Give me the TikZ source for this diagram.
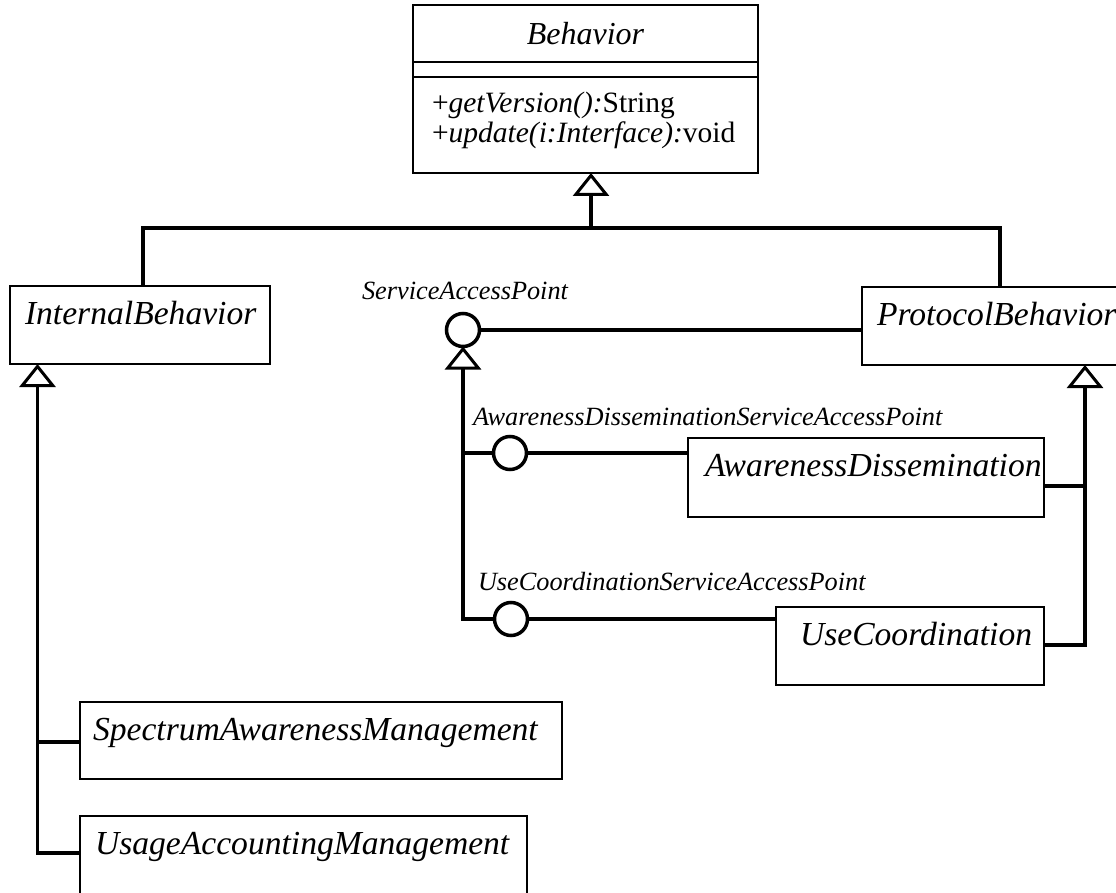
\documentclass[tikz,border=0pt]{standalone}
\usepackage{fontspec}
\setmainfont{Liberation Serif}
\usetikzlibrary{arrows.meta}
\newcommand\clsfont{\fontsize{33.6}{40}\selectfont\itshape}
\newcommand\titlefont{\fontsize{32}{38}\selectfont\itshape}
\newcommand\methfont{\fontsize{29.5}{34}\selectfont}
\newcommand\lblfont{\fontsize{26.3}{30}\selectfont\itshape}
\begin{document}
\begin{tikzpicture}[x=1pt,y=-1pt,
  every node/.style={inner sep=0pt, outer sep=0pt},
  cls/.style={draw, line width=1.8pt, anchor=north west, inner ysep=0pt,
              align=left, text height=38pt, font=\clsfont},
  conn/.style={line width=3.9pt},
  gen/.style={conn, -{Triangle[open, length=23pt, width=36pt, line width=3pt]}},
  iface/.style={circle, draw, line width=3.5pt, minimum size=33pt, fill=white},
  lbl/.style={font=\lblfont}]
\useasboundingbox (0,0) rectangle (1116,893);

% Behavior class
\node[draw, line width=1.8pt, anchor=north west, minimum width=345pt,
      minimum height=168pt] (behavior) at (413,5) {};
\node[font=\titlefont, anchor=base] (bname) at (585.5,45) {Behavior};
\coordinate (c1) at (0,62);
\coordinate (c2) at (0,77);
\draw[line width=1.8pt] (behavior.west |- c1) -- (behavior.east |- c1);
\draw[line width=1.8pt] (behavior.west |- c2) -- (behavior.east |- c2);
\node[font=\methfont, anchor=base west] (op1) at (432,113) {+\textit{getVersion():}String};
\node[font=\methfont, anchor=base west] (op2) at (432,143) {+\textit{update(i:Interface):}void};

% classes
\node[cls, text width=230pt, inner xsep=15pt, text depth=40pt] (internal) at (10,286) {InternalBehavior};
\node[cls, text width=246pt, inner xsep=15pt, text depth=40pt] (protocol) at (862,287) {ProtocolBehavior};
\node[cls, text width=322pt, inner xsep=17pt, text depth=41pt] (aw) at (688,438) {AwarenessDissemination};
\node[cls, text width=220pt, inner xsep=24pt, text depth=40pt] (uc) at (776,607) {UseCoordination};
\node[cls, text width=456pt, inner xsep=13pt, text depth=39pt] (sam) at (80,702) {SpectrumAwarenessManagement};
\node[cls, text width=417pt, inner xsep=15pt, text depth=40pt] (uam) at (80,816) {UsageAccountingManagement};

% interfaces
\node[iface] (sap) at (463,330) {};
\node[iface] (adsap) at (510,453) {};
\node[iface] (ucsap) at (511,619) {};
\node[lbl, anchor=base] (saplbl) at (465,300) {ServiceAccessPoint};
\node[lbl, anchor=base west] (adlbl) at (473,425) {AwarenessDisseminationServiceAccessPoint};
\node[lbl, anchor=base west] (uclbl) at (478,590) {UseCoordinationServiceAccessPoint};

% generalization to Behavior
\coordinate (topj) at (591,228);
\coordinate (ib) at (143,228);
\coordinate (pb) at (1000,228);
\draw[gen] (internal.north -| ib) -- (ib) -- (topj) -- (behavior.south -| topj);
\draw[conn] (protocol.north -| pb) -- (pb) -- (topj);

% service access points
\draw[conn] (sap) -- (protocol.west |- sap);
\coordinate (sapj) at (463,619);
\draw[gen] (ucsap) -- (sapj) -- (sap.south);
\draw[conn] (adsap) -- (adsap -| sapj);
\draw[conn] (adsap) -- (aw.west |- adsap);
\draw[conn] (ucsap) -- (uc.west |- ucsap);

% generalization to ProtocolBehavior
\coordinate (rj) at (1085,645);
\coordinate (rm) at (1085,486);
\draw[gen] (uc.east |- rj) -- (rj) -- (protocol.south -| rj);
\draw[conn] (aw.east |- rm) -- (rm);

% generalization to InternalBehavior
\coordinate (lj) at (37.5,853);
\coordinate (lm) at (37.5,742);
\draw[gen] (uam.west |- lj) -- (lj) -- (internal.south -| lj);
\draw[conn] (sam.west |- lm) -- (lm);
\end{tikzpicture}
\end{document}
